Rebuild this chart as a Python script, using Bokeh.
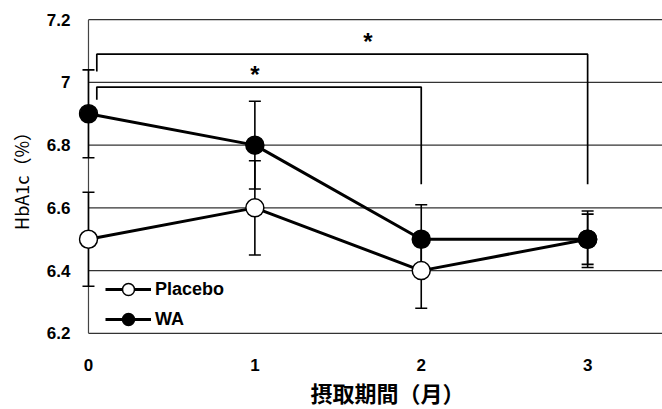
from bokeh.plotting import figure
from bokeh.models import (ColumnDataSource, Whisker, TeeHead, FixedTicker,
                          Legend, LegendItem, Range1d, Title)
from bokeh.embed import file_html
from bokeh.resources import INLINE
from bokeh.core.properties import value

# HbA1c (%) by intake period (months), mean and SD
months = [0, 1, 2, 3]
placebo_mean = [6.5, 6.6, 6.4, 6.5]
placebo_sd = [0.15, 0.15, 0.12, 0.09]
wa_mean = [6.9, 6.8, 6.5, 6.5]
wa_sd = [0.14, 0.14, 0.11, 0.08]

y_ticks = [6.2, 6.4, 6.6, 6.8, 7.0, 7.2]
y_tick_labels = ["6.2", "6.4", "6.6", "6.8", "7", "7.2"]
x_ticks = [0, 1, 2, 3]

# significance brackets (WA, month 0 vs later months)
bracket_start = [0.05, 0.05]
bracket_end = [2.0, 3.0]
bracket_top = [6.985, 7.09]
bracket_left_foot = [6.945, 7.035]
bracket_right_foot = [6.675, 6.675]
star_x = [1.0, 1.68]
star_y = [7.025, 7.13]
star_text = ["*", "*"]

X_START, X_END = -0.06, 3.45
Y_START, Y_END = 6.19, 7.21

p = figure(width=662, height=409, output_backend="svg", toolbar_location=None,
           x_range=Range1d(X_START, X_END), y_range=Range1d(Y_START, Y_END))
p.min_border_left = 78
p.min_border_right = 0
p.min_border_top = 16
p.min_border_bottom = 73
p.outline_line_color = None
p.background_fill_color = "white"
p.border_fill_color = "white"
p.xgrid.visible = False
p.ygrid.visible = False

num_font = "Liberation Sans"
jp_font = "Noto Sans CJK JP"

# axes
p.xaxis.ticker = FixedTicker(ticks=x_ticks)
p.yaxis.ticker = FixedTicker(ticks=y_ticks)
p.yaxis.major_label_overrides = {t: s for t, s in zip(y_ticks, y_tick_labels)}
for ax in (p.xaxis, p.yaxis):
    ax.axis_line_color = None
    ax.major_tick_line_color = None
    ax.minor_tick_line_color = None
    ax.major_tick_out = 0
    ax.major_tick_in = 0
    ax.minor_tick_out = 0
    ax.minor_tick_in = 0
    ax.major_label_text_font = num_font
    ax.major_label_text_font_style = "bold"
    ax.major_label_text_font_size = "17px"
    ax.major_label_text_color = "black"
    ax.axis_label_text_color = "black"
    ax.axis_label_text_font_style = "normal"
p.xaxis.major_label_standoff = 22
p.yaxis.major_label_standoff = 8
p.yaxis.axis_label = "HbA1c（%）"
p.yaxis.axis_label_text_font = jp_font
p.yaxis.axis_label_text_font_size = "18px"
p.yaxis.axis_label_standoff = 10

# x-axis title, as a title panel under the tick labels
p.add_layout(Title(text="摂取期間（月）", align="left", offset=232, standoff=0,
                   vertical_align="bottom",
                   text_font=jp_font, text_font_style="bold",
                   text_font_size="22px", text_color="black"), "below")

# frame lines: left edge and horizontal rules at each y tick
grid = p.segment(x0=[0] * len(y_ticks), y0=y_ticks, x1=[X_END] * len(y_ticks), y1=y_ticks,
                 line_color="#333333", line_width=1.2)
grid.level = "underlay"
left = p.segment(x0=[0], y0=[y_ticks[0]], x1=[0], y1=[y_ticks[-1]],
                 line_color="#444444", line_width=1.2)
left.level = "underlay"

# error bars
for mean, sd in ((placebo_mean, placebo_sd), (wa_mean, wa_sd)):
    src = ColumnDataSource(dict(x=months,
                                upper=[m + s for m, s in zip(mean, sd)],
                                lower=[m - s for m, s in zip(mean, sd)]))
    p.add_layout(Whisker(base="x", upper="upper", lower="lower", source=src,
                         line_color="black", line_width=1.6,
                         upper_head=TeeHead(size=12, line_width=1.6, line_color="black"),
                         lower_head=TeeHead(size=12, line_width=1.6, line_color="black")))

# significance brackets
bx = [[s, s, e, e] for s, e in zip(bracket_start, bracket_end)]
by = [[lf, t, t, rf] for lf, t, rf in zip(bracket_left_foot, bracket_top, bracket_right_foot)]
p.multi_line(xs=bx, ys=by, line_color="black", line_width=1.7)
p.text(x=star_x, y=star_y, text=star_text, text_align="center", text_baseline="middle",
       text_font=value(num_font), text_font_style="bold", text_font_size="24px",
       text_color="black")

# series
wa_line = p.line(months, wa_mean, line_color="black", line_width=3)
pl_line = p.line(months, placebo_mean, line_color="black", line_width=3)
pl_pts = p.scatter(months, placebo_mean, size=18, marker="circle",
                   fill_color="white", line_color="black", line_width=1.5)
wa_pts = p.scatter(months, wa_mean, size=18, marker="circle",
                   fill_color="black", line_color="black", line_width=1.5)

legend = Legend(items=[LegendItem(label="Placebo", renderers=[pl_line, pl_pts]),
                       LegendItem(label="WA", renderers=[wa_line, wa_pts])],
                location=(27, 2), orientation="vertical",
                glyph_width=46, glyph_height=30, label_standoff=4, spacing=-1,
                padding=0, margin=0, border_line_color=None,
                background_fill_alpha=0,
                label_text_font=num_font, label_text_font_style="bold",
                label_text_font_size="18px", label_text_color="black")
p.add_layout(legend)

open("out.html", "w").write(file_html(p, INLINE))
